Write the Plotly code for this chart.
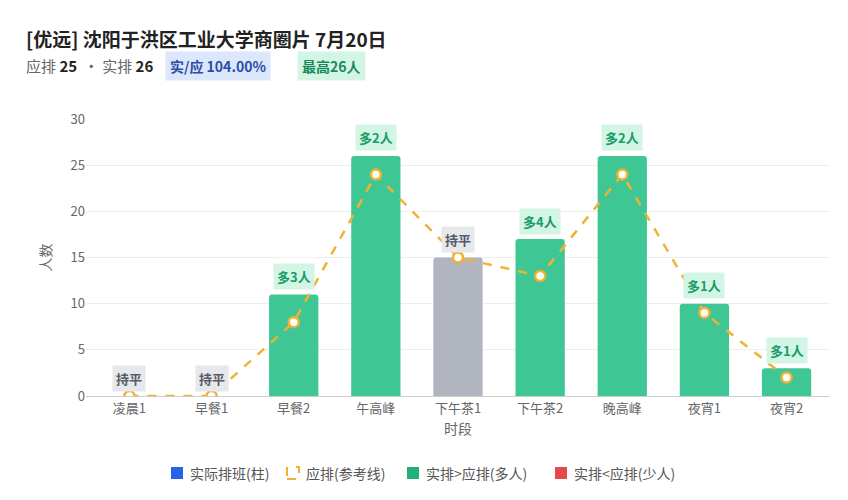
import plotly.graph_objects as go

cats = ["凌晨1","早餐1","早餐2","午高峰","下午茶1","下午茶2","晚高峰","夜宵1","夜宵2"]
actual = [0,0,11,26,15,17,26,10,3]
plan = [0,0,8,24,15,13,24,9,2]
yticks = [0,5,10,15,20,25,30]

GREEN="#3ec795"; GRAY="#b1b5c0"; RED="#e5484d"; ORANGE="#f0b232"
colors=[GREEN if a>p else (RED if a<p else GRAY) for a,p in zip(actual,plan)]
labels=[("多%d人"%(a-p)) if a>p else (("少%d人"%(p-a)) if a<p else "持平") for a,p in zip(actual,plan)]

L,R,T,B=78,26,111,112
W,H=848,500
OFF=7; OFFX=9
def px(x): return (x-OFFX-L)/(W-L-R)
def py(y): return (H-B-(y-OFF))/(H-T-B)

fig=go.Figure()
fig.add_bar(x=cats,y=actual,marker=dict(color=colors,line=dict(width=0),cornerradius=3),width=0.6,showlegend=False,hoverinfo="skip")
fig.add_scatter(x=cats,y=plan,mode="lines+markers",line=dict(color=ORANGE,width=2.5,dash="dash"),
                marker=dict(size=10,color="white",line=dict(color=ORANGE,width=2.5)),showlegend=False)
for c,a,l,col in zip(cats,actual,labels,colors):
    g = col!=GRAY
    fig.add_annotation(x=c,y=a,text="<b>%s</b>"%l,showarrow=False,yshift=18,
        font=dict(size=13,color="#1a9c68" if g else "#555b66",family="Noto Sans CJK SC"),
        bgcolor="#d3f5e6" if g else "#e6e8ec",borderpad=3)

def txt(t,x,y,s,c,**kw):
    fig.add_annotation(text=t,x=px(x),y=py(y),xref="paper",yref="paper",showarrow=False,xanchor="left",yanchor="middle",
        font=dict(size=s,color=c,family="Noto Sans CJK SC"),**kw)
txt("<b>[优远] 沈阳于洪区工业大学商圈片 7月20日</b>",25,37,19,"#222")
txt("应排 <b><span style='color:#222'>25</span></b>  · 实排 <b><span style='color:#222'>26</span></b>",25,65,15,"#666")
txt("<b>实/应 104.00%</b>",166,65,14,"#2b4ea8",bgcolor="#dce7fb",borderpad=4)
txt("<b>最高26人</b>",298,65,14,"#1a8a5a",bgcolor="#d3f5e6",borderpad=4)

leg=[(178,"#2563eb","实际排班(柱)",False),(294,ORANGE,"应排(参考线)",True),(414,"#22b07a","实排>应排(多人)",False),(562,RED,"实排<应排(少人)",False)]
for x,c,t,d in leg:
    fig.add_shape(type="rect",xref="paper",yref="paper",x0=px(x-6),x1=px(x+6),y0=py(478),y1=py(466),
        fillcolor="white" if d else c,line=dict(color=c,width=2 if d else 0,dash="dash" if d else "solid"))
    txt(t,x+11,472,14,"#555")

fig.update_layout(width=W,height=H,margin=dict(l=L,r=R,t=T,b=B),plot_bgcolor="white",paper_bgcolor="white",
    font=dict(family="Noto Sans CJK SC",color="#666"),bargap=0.4)
fig.update_xaxes(title=dict(text="时段",font=dict(size=14),standoff=8),showline=True,linecolor="#ccc",ticks="",tickfont=dict(size=13))
fig.update_yaxes(title=dict(text="人数",font=dict(size=14)),range=[0,30],tickvals=yticks,gridcolor="#eee",zeroline=False,tickfont=dict(size=13))
fig.write_html("out.html")
